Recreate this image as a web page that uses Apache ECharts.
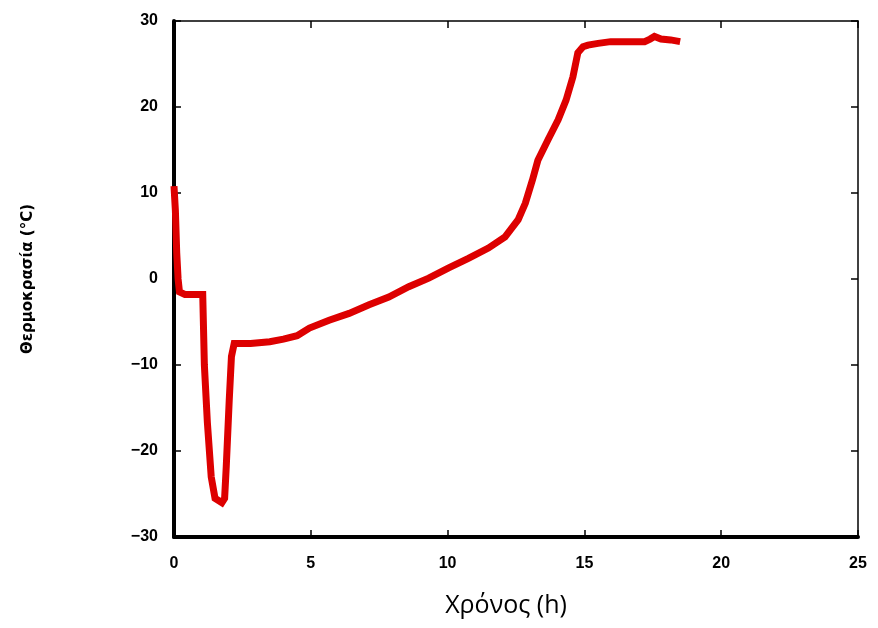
<!DOCTYPE html>
<html>
<head>
<meta charset="utf-8">
<script src="https://cdn.jsdelivr.net/npm/echarts@6/dist/echarts.min.js"></script>
<style>
  html, body { margin: 0; padding: 0; background: #fff; }
  #chart { width: 878px; height: 628px; }
</style>
</head>
<body>
<div id="chart"></div>
<script>
// time in hours
var timeH = [0, 0.05, 0.1, 0.15, 0.2, 0.4, 0.7, 1.05, 1.11, 1.22, 1.36, 1.5, 1.75, 1.85, 1.91, 2.02, 2.1, 2.2,
  2.8, 3.5, 4.0, 4.5, 4.95, 5.67, 6.4, 7.13, 7.85, 8.58, 9.31, 10.04, 10.76, 11.49, 12.1, 12.58, 12.84,
  13.1, 13.3, 13.67, 14.04, 14.33, 14.58, 14.76, 14.95, 15.13, 15.5, 15.96, 16.5, 17.2, 17.4, 17.56, 17.8, 18.15, 18.5]
// temperature in °C
var tempC = [10.8, 8, 3, 0, -1.5, -1.8, -1.8, -1.8, -10, -16.7, -23, -25.5, -26, -25.5, -21.8, -14, -9, -7.5,
  -7.5, -7.3, -7, -6.6, -5.7, -4.8, -4.0, -3.0, -2.1, -0.9, 0.1, 1.3, 2.4, 3.6, 4.9, 6.9, 8.8,
  11.5, 13.8, 16.2, 18.5, 20.8, 23.5, 26.3, 27, 27.2, 27.4, 27.6, 27.6, 27.6, 27.9, 28.2, 27.9, 27.8, 27.6]
var xTicks = [0, 5, 10, 15, 20, 25]
var yTicks = [-30, -20, -10, 0, 10, 20, 30]

var points = timeH.map(function (t, i) { return [t, tempC[i]] })

var labelStyle = {
  color: '#000',
  fontFamily: 'Liberation Sans',
  fontWeight: 900,
  fontSize: 16
}
var tickStyle = { inside: true, length: 7, lineStyle: { color: '#000', width: 1.5 } }

var chart = echarts.init(document.getElementById('chart'))
var option = {
  animation: false,
  backgroundColor: '#fff',
  grid: { left: 174, right: 20, top: 21, bottom: 91 },
  xAxis: [
    {
      type: 'value',
      min: xTicks[0],
      max: xTicks[xTicks.length - 1],
      interval: 5,
      name: 'Χρόνος (h)',
      nameLocation: 'middle',
      nameGap: 56,
      nameTextStyle: { color: '#000', fontFamily: 'Open Sans', fontSize: 25, padding: [0, 20, 0, 0] },
      axisLine: { onZero: false, lineStyle: { color: '#000', width: 4 } },
      axisTick: tickStyle,
      axisLabel: Object.assign({ margin: 19 }, labelStyle),
      splitLine: { show: false }
    },
    {
      type: 'value',
      position: 'top',
      min: xTicks[0],
      max: xTicks[xTicks.length - 1],
      interval: 5,
      axisLine: { show: true, onZero: false, lineStyle: { color: '#000', width: 1.5 } },
      axisTick: Object.assign({ show: true }, tickStyle),
      axisLabel: { show: false },
      splitLine: { show: false }
    }
  ],
  yAxis: [
    {
      type: 'value',
      min: yTicks[0],
      max: yTicks[yTicks.length - 1],
      interval: 10,
      name: 'Θερμοκρασία (°C)',
      nameLocation: 'middle',
      nameGap: 138,
      nameTextStyle: { color: '#000', fontFamily: 'DejaVu Sans', fontWeight: 'bold', fontSize: 15 },
      axisLine: { onZero: false, lineStyle: { color: '#000', width: 4 } },
      axisTick: tickStyle,
      axisLabel: Object.assign({
        margin: 16,
        formatter: function (v) { return String(v).replace('-', '\u2212') }
      }, labelStyle),
      splitLine: { show: false }
    },
    {
      type: 'value',
      position: 'right',
      min: yTicks[0],
      max: yTicks[yTicks.length - 1],
      interval: 10,
      axisLine: { show: true, onZero: false, lineStyle: { color: '#000', width: 1.5 } },
      axisTick: Object.assign({ show: true }, tickStyle),
      axisLabel: { show: false },
      splitLine: { show: false }
    }
  ],
  series: [
    {
      type: 'line',
      xAxisIndex: 0,
      yAxisIndex: 0,
      data: points,
      showSymbol: false,
      lineStyle: { color: '#dd0000', width: 7, join: 'miter' }
    }
  ]
}
chart.setOption(option)
</script>
</body>
</html>
